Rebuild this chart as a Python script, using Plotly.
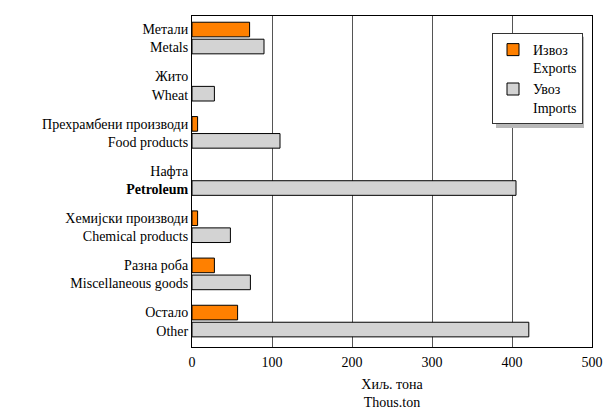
import plotly.graph_objects as go

# categories (top to bottom), two-line labels: Macedonian / English
labels_mk = ["Метали", "Жито", "Прехрамбени производи", "Нафта",
             "Хемијски производи", "Разна роба", "Остало"]
labels_en = ["Metals", "Wheat", "Food products", "<b>Petroleum</b>",
             "Chemical products", "Miscellaneous goods", "Other"]

# thousand tons (None = no exports in that group)
exports = [72, None, 7, None, 7, 28, 57]
imports = [90, 28, 110, 405, 48, 73, 421]

ticks_x = [0, 100, 200, 300, 400, 500]

pos = list(range(len(labels_mk)))
cats = [f"{mk}<br>{en}" for mk, en in zip(labels_mk, labels_en)]
serif = "Liberation Serif, Times New Roman, serif"

fig = go.Figure()
fig.add_trace(go.Bar(y=pos, x=exports, orientation="h", name="Извоз<br>Exports",
                     width=0.31, offset=-0.345,
                     marker=dict(color="#ff8000", line=dict(color="#000", width=1))))
fig.add_trace(go.Bar(y=pos, x=imports, orientation="h", name="Увоз<br>Imports",
                     width=0.31, offset=0.015,
                     marker=dict(color="#d3d3d3", line=dict(color="#000", width=1))))

# legend shadow (sits a few px right/below the legend box)
fig.add_shape(type="rect", xref="paper", yref="paper",
              x0=0.76, x1=0.98, y0=0.662, y1=0.937,
              fillcolor="#b8b8b8", line=dict(width=0), layer="above")

fig.update_layout(
    width=607, height=410,
    margin=dict(l=192, r=15, t=16, b=63),
    paper_bgcolor="white", plot_bgcolor="white",
    font=dict(family=serif, size=14, color="#000"),
    barmode="overlay",
    showlegend=True,
    legend=dict(x=0.75, y=0.9486, xanchor="left", yanchor="top",
                bgcolor="white", bordercolor="#333", borderwidth=1,
                font=dict(family=serif, size=14), traceorder="normal",
                valign="top", itemwidth=30),
)
fig.update_xaxes(range=[0, 500], tickvals=ticks_x, showgrid=True, gridcolor="#555", gridwidth=1,
                 showline=True, linecolor="#000", linewidth=1, mirror=True,
                 zeroline=False, ticks="", tickfont=dict(size=14), automargin=False,
                 ticklabeloverflow="allow", ticklabelstandoff=2,
                 title=dict(text="Хиљ. тона<br>Thous.ton", font=dict(size=14), standoff=13))
fig.update_yaxes(range=[6.54, -0.477], tickvals=pos, ticktext=cats,
                 showline=True, linecolor="#000", linewidth=1, automargin=False,
                 mirror=True, ticks="", showgrid=False, zeroline=False,
                 tickfont=dict(size=14))

# drop the default 8px page margin so the figure fills the window
fig.write_html("out.html", config={"displayModeBar": False},
               post_script="document.body.style.margin='0';document.body.style.overflow='hidden';")
